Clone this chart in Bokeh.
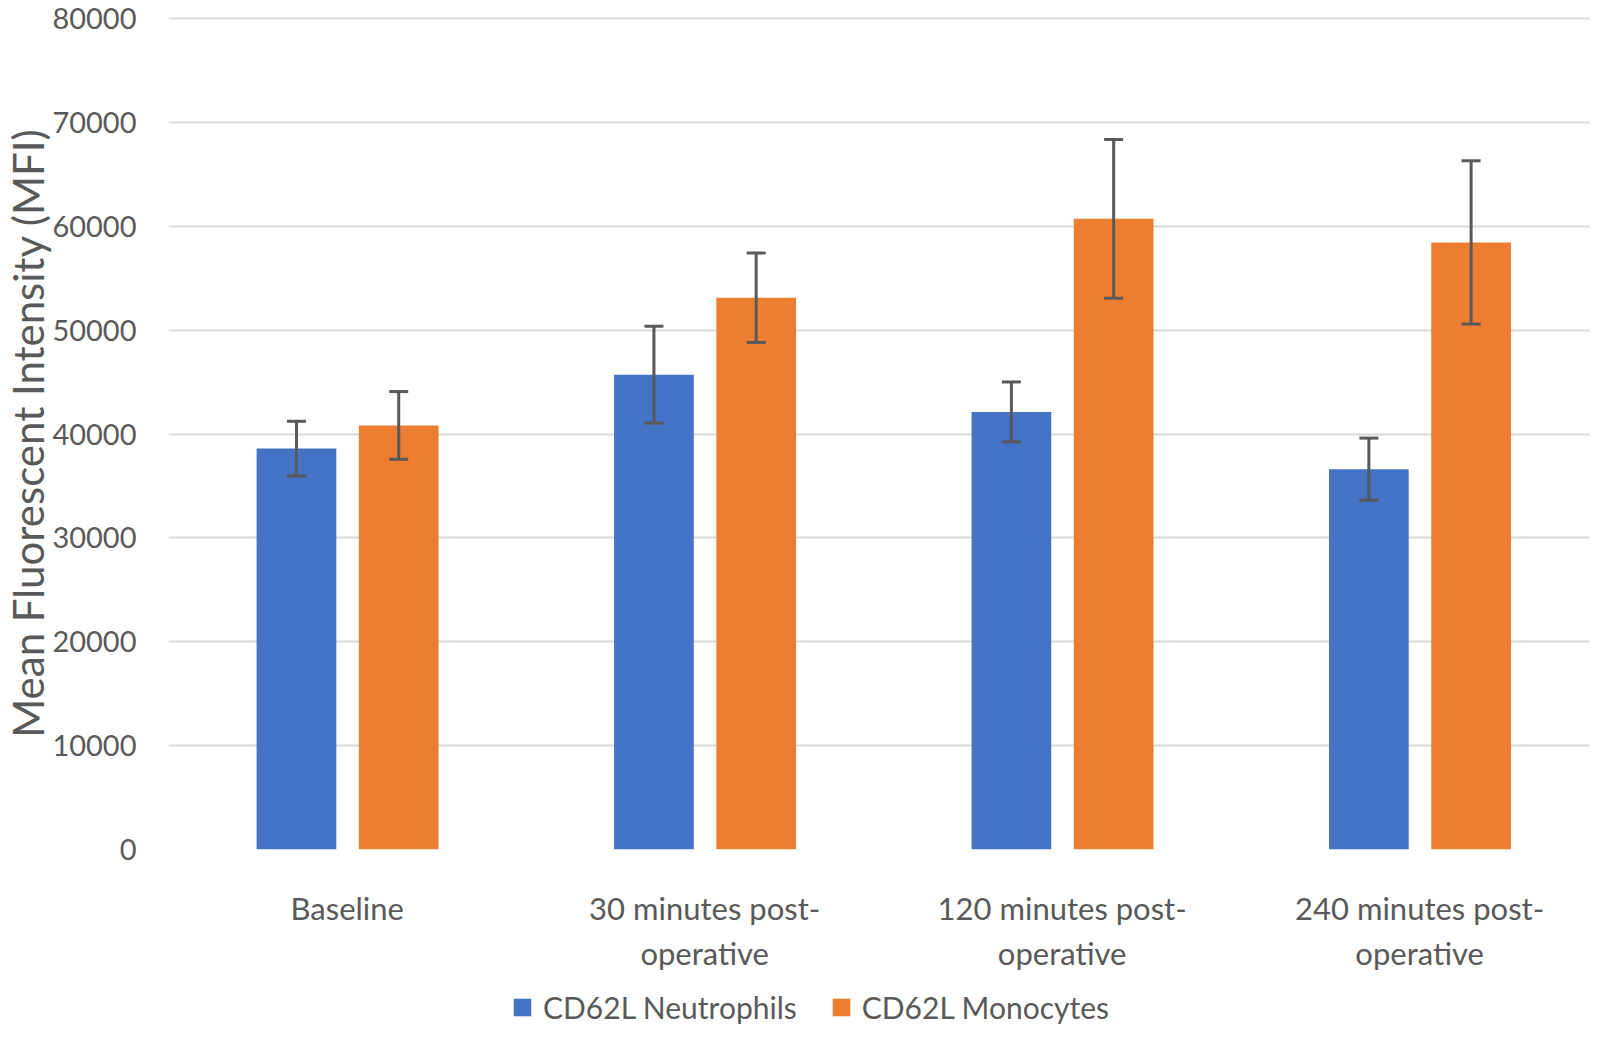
import numpy as np
from bokeh.plotting import figure
from bokeh.layouts import column
from bokeh.models import (ColumnDataSource, Whisker, TeeHead, Range1d, FixedTicker,
                          Legend, LegendItem)
from bokeh.embed import file_html
from bokeh.resources import INLINE

# ---- data ----
categories = ["Baseline", "30 minutes post-\noperative",
              "120 minutes post-\noperative", "240 minutes post-\noperative"]
series_names = ["CD62L Neutrophils", "CD62L Monocytes"]
neutrophils = [38600, 45720, 42130, 36620]
neutrophils_err = [2630, 4660, 2885, 2990]
monocytes = [40830, 53120, 60720, 58450]
monocytes_err = [3260, 4300, 7640, 7860]
y_ticks = [0, 10000, 20000, 30000, 40000, 50000, 60000, 70000, 80000]
colors = ["#4472C4", "#ED7D31"]

FONT = "Lato"
TXT = "#595959"

W = 1590
H_MAIN, H_LEG = 975, 50
p = figure(width=W, height=H_MAIN, output_backend="svg", toolbar_location=None,
           x_range=Range1d(0, 3.978), y_range=Range1d(0, 80200),
           min_border_left=162, min_border_right=0, min_border_top=16,
           min_border_bottom=126)
p.outline_line_color = None
p.background_fill_color = "white"
p.border_fill_color = "white"

centers = np.arange(len(categories)) + 0.5
offsets = [-0.142, 0.144]
bar_w = 0.223

for vals, errs, col, off in zip([neutrophils, monocytes],
                                [neutrophils_err, monocytes_err], colors, offsets):
    v = np.array(vals, dtype=float)
    e = np.array(errs, dtype=float)
    src = ColumnDataSource(dict(x=centers + off, top=v, upper=v + e, lower=v - e))
    p.vbar(x="x", top="top", bottom=0, width=bar_w, source=src,
           fill_color=col, line_color=None)
    wh = Whisker(base="x", upper="upper", lower="lower", source=src,
                 dimension="height", line_color="#595959", line_width=3,
                 upper_head=TeeHead(size=19, line_color="#595959", line_width=3),
                 lower_head=TeeHead(size=19, line_color="#595959", line_width=3))
    wh.level = "overlay"
    p.add_layout(wh)

# grid
p.xgrid.grid_line_color = None
p.ygrid.grid_line_color = "#d9d9d9"
p.ygrid.grid_line_width = 2
p.ygrid.ticker = FixedTicker(ticks=y_ticks)

# y axis
yax = p.yaxis[0]
yax.ticker = FixedTicker(ticks=y_ticks)
yax.axis_line_color = None
yax.major_tick_line_color = None
yax.minor_tick_line_color = None
yax.major_tick_out = 0
yax.major_tick_in = 0
yax.major_label_text_font = FONT
yax.major_label_text_font_size = "29px"
yax.major_label_text_color = TXT
yax.major_label_standoff = 32
yax.axis_label = "Mean Fluorescent Intensity (MFI)"
yax.axis_label_text_font = FONT
yax.axis_label_text_font_size = "42px"
yax.axis_label_text_font_style = "normal"
yax.axis_label_text_color = TXT
yax.axis_label_standoff = -4

# x axis
xax = p.xaxis[0]
xax.ticker = FixedTicker(ticks=list(centers))
xax.major_label_overrides = {float(c): lab for c, lab in zip(centers, categories)}
xax.axis_line_color = None
xax.major_tick_line_color = None
xax.minor_tick_line_color = None
xax.major_tick_out = 0
xax.major_tick_in = 0
xax.major_label_text_font = FONT
xax.major_label_text_font_size = "31px"
xax.major_label_text_color = TXT
xax.major_label_standoff = 39

# legend strip (separate figure below the chart)
pl = figure(width=W, height=H_LEG, output_backend="svg", toolbar_location=None,
            x_range=Range1d(0, 1), y_range=Range1d(0, 1),
            min_border_left=162, min_border_right=0,
            min_border_top=0, min_border_bottom=0)
pl.axis.visible = False
pl.grid.visible = False
pl.outline_line_color = None
pl.background_fill_alpha = 0
pl.border_fill_alpha = 0
# swatch renderers for the legend (their single point lies outside the visible range)
leg_renderers = [pl.vbar(x=[0.5], top=[-2], bottom=[-3], width=0.1,
                         fill_color=c, line_color=None) for c in colors]
legend = Legend(items=[LegendItem(label=n, renderers=[r])
                       for n, r in zip(series_names, leg_renderers)],
                orientation="horizontal", location=(343, 0),
                glyph_width=22, glyph_height=22, label_standoff=10, spacing=33,
                padding=0, margin=0, border_line_color=None, background_fill_alpha=0,
                label_text_font=FONT, label_text_font_size="30px", label_text_color=TXT)
pl.add_layout(legend, "center")

layout = column(p, pl, spacing=0)
open("out.html", "w").write(file_html(layout, INLINE))
